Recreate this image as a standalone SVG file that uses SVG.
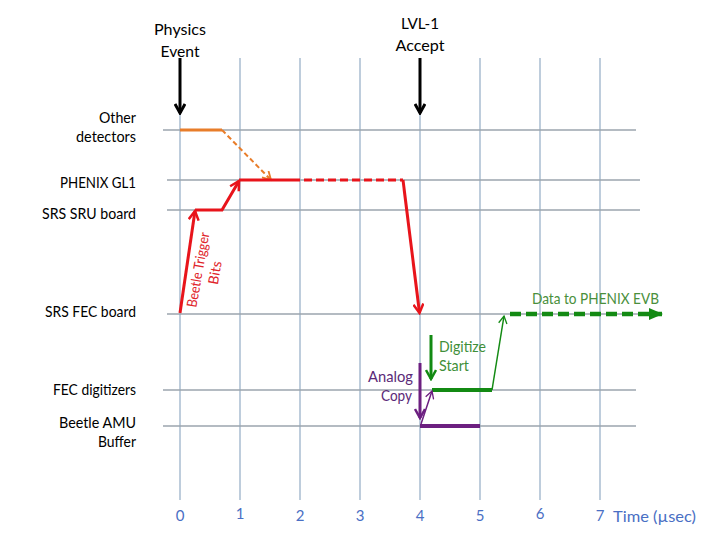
<svg xmlns="http://www.w3.org/2000/svg" width="720" height="540" viewBox="0 0 720 540">
<style>
.lbl{font-family:Lato,"Liberation Sans",sans-serif;font-size:16px;fill:#000}
.r{text-anchor:end}
.m{text-anchor:middle}
.ax{font-family:Lato,"Liberation Sans",sans-serif;font-size:15px;fill:#4a6fc4;text-anchor:middle}
.vg{stroke:#a9bcd1;stroke-width:1.5}
.hg{stroke:#9ba4ae;stroke-width:1.5}
.red{stroke:#e8141b;stroke-width:3;fill:none}
.bt{font-family:Lato,"Liberation Sans",sans-serif;font-size:14px;fill:#e0242a;text-anchor:middle}
.gt{font-family:Lato,"Liberation Sans",sans-serif;font-size:16px;fill:#3f8f3a}
.pt{font-family:Lato,"Liberation Sans",sans-serif;font-size:16px;fill:#5b2a78;text-anchor:end}
</style>
<defs>
<marker id="ak" viewBox="0 0 12 12" refX="10" refY="6" markerWidth="12" markerHeight="12" orient="auto" markerUnits="userSpaceOnUse"><path d="M1,1 L10,6 L1,11" fill="none" stroke="#000" stroke-width="3"/></marker>
<marker id="ar" viewBox="0 0 12 12" refX="10" refY="6" markerWidth="12" markerHeight="12" orient="auto" markerUnits="userSpaceOnUse"><path d="M1,1 L10,6 L1,11" fill="none" stroke="#e8141b" stroke-width="2.5"/></marker>
<marker id="ao" viewBox="0 0 12 12" refX="10" refY="6" markerWidth="11" markerHeight="11" orient="auto" markerUnits="userSpaceOnUse"><path d="M1,1 L10,6 L1,11" fill="none" stroke="#e87d2a" stroke-width="2"/></marker>
<marker id="ag" viewBox="0 0 12 12" refX="10" refY="6" markerWidth="12" markerHeight="12" orient="auto" markerUnits="userSpaceOnUse"><path d="M1,1 L10,6 L1,11" fill="none" stroke="#138a13" stroke-width="2.5"/></marker>
<marker id="agt" viewBox="0 0 12 12" refX="10" refY="6" markerWidth="10" markerHeight="10" orient="auto" markerUnits="userSpaceOnUse"><path d="M1,1 L10,6 L1,11" fill="none" stroke="#138a13" stroke-width="1.6"/></marker>
<marker id="agf" viewBox="0 0 14 14" refX="13" refY="7" markerWidth="14" markerHeight="14" orient="auto" markerUnits="userSpaceOnUse"><path d="M0,1 L14,7 L0,13 Z" fill="#138a13"/></marker>
<marker id="ap" viewBox="0 0 12 12" refX="10" refY="6" markerWidth="12" markerHeight="12" orient="auto" markerUnits="userSpaceOnUse"><path d="M1,1 L10,6 L1,11" fill="none" stroke="#6c1f80" stroke-width="2.5"/></marker>
<marker id="apt" viewBox="0 0 12 12" refX="10" refY="6" markerWidth="10" markerHeight="10" orient="auto" markerUnits="userSpaceOnUse"><path d="M1,1 L10,6 L1,11" fill="none" stroke="#6c1f80" stroke-width="1.6"/></marker>
</defs>
<rect width="720" height="540" fill="#fff"/>
<g id="grid">
<line class="vg" x1="180" y1="58" x2="180" y2="500"/>
<line class="vg" x1="240" y1="58" x2="240" y2="500"/>
<line class="vg" x1="300" y1="58" x2="300" y2="500"/>
<line class="vg" x1="360" y1="58" x2="360" y2="500"/>
<line class="vg" x1="420" y1="58" x2="420" y2="500"/>
<line class="vg" x1="480" y1="58" x2="480" y2="500"/>
<line class="vg" x1="540" y1="58" x2="540" y2="500"/>
<line class="vg" x1="600" y1="58" x2="600" y2="500"/>
<line class="hg" x1="163" y1="130" x2="636" y2="130"/>
<line class="hg" x1="167" y1="180" x2="640" y2="180"/>
<line class="hg" x1="167" y1="210" x2="640" y2="210"/>
<line class="hg" x1="167" y1="314" x2="640" y2="314"/>
<line class="hg" x1="163" y1="390" x2="636" y2="390"/>
<line class="hg" x1="163" y1="426" x2="636" y2="426"/>
</g>
<g id="axis">
<text class="ax" x="180" y="521">0</text>
<text class="ax" x="240" y="519">1</text>
<text class="ax" x="300" y="521">2</text>
<text class="ax" x="360" y="521">3</text>
<text class="ax" x="420" y="521">4</text>
<text class="ax" x="480" y="521">5</text>
<text class="ax" x="540" y="519">6</text>
<text class="ax" x="600" y="521">7</text>
<text class="ax" x="613" y="522" style="text-anchor:start" textLength="83" lengthAdjust="spacingAndGlyphs">Time (µsec)</text>
</g>
<g id="row-labels">
<text class="lbl r" x="136" y="123" textLength="37" lengthAdjust="spacingAndGlyphs">Other</text>
<text class="lbl r" x="136" y="142" textLength="60" lengthAdjust="spacingAndGlyphs">detectors</text>
<text class="lbl r" x="136" y="188" textLength="76" lengthAdjust="spacingAndGlyphs">PHENIX GL1</text>
<text class="lbl r" x="136" y="219" textLength="94" lengthAdjust="spacingAndGlyphs">SRS SRU board</text>
<text class="lbl r" x="136" y="317" textLength="91" lengthAdjust="spacingAndGlyphs">SRS FEC board</text>
<text class="lbl r" x="136" y="395" textLength="83" lengthAdjust="spacingAndGlyphs">FEC digitizers</text>
<text class="lbl r" x="136" y="428" textLength="77" lengthAdjust="spacingAndGlyphs">Beetle AMU</text>
<text class="lbl r" x="136" y="447" textLength="38" lengthAdjust="spacingAndGlyphs">Buffer</text>
</g>
<g id="physics-event">
<text class="lbl m" x="180" y="35" textLength="52" lengthAdjust="spacingAndGlyphs">Physics</text>
<text class="lbl m" x="180" y="57" textLength="39" lengthAdjust="spacingAndGlyphs">Event</text>
</g>
<g id="lvl1-accept">
<text class="lbl m" x="420" y="29" textLength="38" lengthAdjust="spacingAndGlyphs">LVL-1</text>
<text class="lbl m" x="420" y="51" textLength="49" lengthAdjust="spacingAndGlyphs">Accept</text>
</g>
<g id="beetle-label">
<text class="bt" transform="translate(199,270) rotate(-80)" x="0" y="4" textLength="76" lengthAdjust="spacingAndGlyphs">Beetle Trigger</text>
<text class="bt" transform="translate(199,270) rotate(-80)" x="0" y="21">Bits</text>
</g>
<g id="digitize-label">
<text class="gt" x="439" y="352" textLength="47" lengthAdjust="spacingAndGlyphs">Digitize</text>
<text class="gt" x="439" y="371" textLength="30" lengthAdjust="spacingAndGlyphs">Start</text>
</g>
<g id="analog-label">
<text class="pt" x="413" y="382" textLength="45" lengthAdjust="spacingAndGlyphs">Analog</text>
<text class="pt" x="412" y="401" textLength="31" lengthAdjust="spacingAndGlyphs">Copy</text>
</g>
<g id="evb-label">
<text class="gt" x="532" y="304" style="fill:#4a8f3c" textLength="127" lengthAdjust="spacingAndGlyphs">Data to PHENIX EVB</text>
</g>
<g id="connectors">
<line x1="180" y1="58" x2="180" y2="113" stroke="#000" stroke-width="3" marker-end="url(#ak)"/>
<line x1="420" y1="58" x2="420" y2="113" stroke="#000" stroke-width="3" marker-end="url(#ak)"/>
<line x1="180" y1="130" x2="222" y2="130" stroke="#e87d2a" stroke-width="3"/>
<line x1="222" y1="130" x2="271" y2="180" stroke="#e87d2a" stroke-width="2" stroke-dasharray="5 3" marker-end="url(#ao)"/>
<line class="red" x1="180" y1="313" x2="195" y2="211" marker-end="url(#ar)"/>
<polyline class="red" points="195,210 222,210 239,181" marker-end="url(#ar)"/>
<line class="red" x1="239" y1="180" x2="292" y2="180"/>
<line class="red" x1="292" y1="180" x2="403" y2="180" stroke-dasharray="8 4"/>
<line class="red" x1="403" y1="180" x2="419.5" y2="313" marker-end="url(#ar)"/>
<line x1="431" y1="335" x2="431" y2="379" stroke="#138a13" stroke-width="3" marker-end="url(#ag)"/>
<line x1="432" y1="390" x2="492" y2="390" stroke="#138a13" stroke-width="4"/>
<line x1="492" y1="390" x2="504" y2="316" stroke="#138a13" stroke-width="1.5" marker-end="url(#agt)"/>
<line x1="510" y1="314" x2="662" y2="314" stroke="#138a13" stroke-width="4.5" stroke-dasharray="11 5" marker-end="url(#agf)"/>
<line x1="420" y1="363" x2="420" y2="418" stroke="#6c1f80" stroke-width="3" marker-end="url(#ap)"/>
<line x1="420" y1="426" x2="480" y2="426" stroke="#6c1f80" stroke-width="4"/>
<line x1="421" y1="424" x2="432" y2="391" stroke="#6c1f80" stroke-width="1.5" marker-end="url(#apt)"/>
</g>
</svg>
